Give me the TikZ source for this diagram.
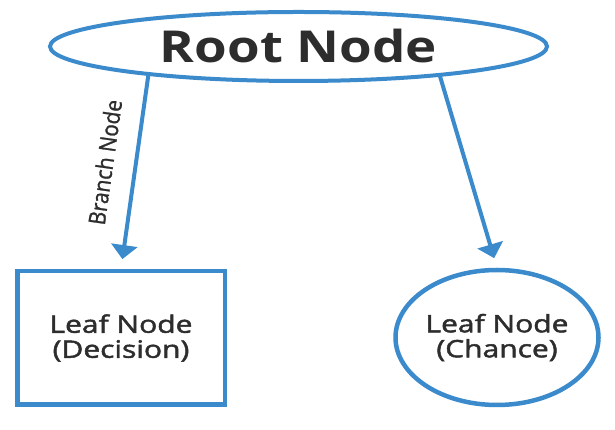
\documentclass[tikz,border=0pt]{standalone}
\usepackage{fontspec}
\setmainfont{Open Sans}
\newfontfamily\widesans[FakeStretch=1.2]{Open Sans}
\newfontfamily\leafsans[FakeStretch=1.25,FakeBold=2]{Open Sans}
\newfontfamily\branchsans[FakeBold=1.2]{Open Sans}
\usetikzlibrary{arrows.meta,shapes,positioning}
\definecolor{treeblue}{RGB}{59,139,204}
\definecolor{treetext}{RGB}{45,45,45}

\begin{document}
\begin{tikzpicture}[>={Triangle[width=26pt,length=14pt]},x=1pt,y=1pt,
  rootnode/.style={ellipse,draw=treeblue,line width=4pt,minimum width=497pt,minimum height=69pt,inner sep=0pt,text=treetext,font=\widesans\bfseries\fontsize{44}{48}\selectfont},
  leafnode/.style={draw=treeblue,line width=4.5pt,inner sep=0pt,align=center,text=treetext,font=\leafsans\fontsize{24}{25}\selectfont},
  branch/.style={->,draw=treeblue,line width=4pt,shorten >=10pt}]
\useasboundingbox (0,0) rectangle (615,430);

\node[rootnode] (root) at (298.5,383.5) {Root Node};
\node[leafnode,rectangle,minimum width=207.5pt,minimum height=133.5pt] (decision) at (121,92) {Leaf Node\\(Decision)};
\node[leafnode,ellipse,minimum width=203pt,minimum height=135pt] (chance) at (497,92.5) {Leaf Node\\(Chance)};

\draw[branch] (root.191) -- (decision.north) node[pos=0.47,sloped,above=20pt,inner sep=0pt,text=treetext,font=\branchsans\fontsize{23}{24}\selectfont] {\scalebox{0.9}[1]{Branch Node}};
\draw[branch] (root.348) -- (chance.north);

\end{tikzpicture}
\end{document}
